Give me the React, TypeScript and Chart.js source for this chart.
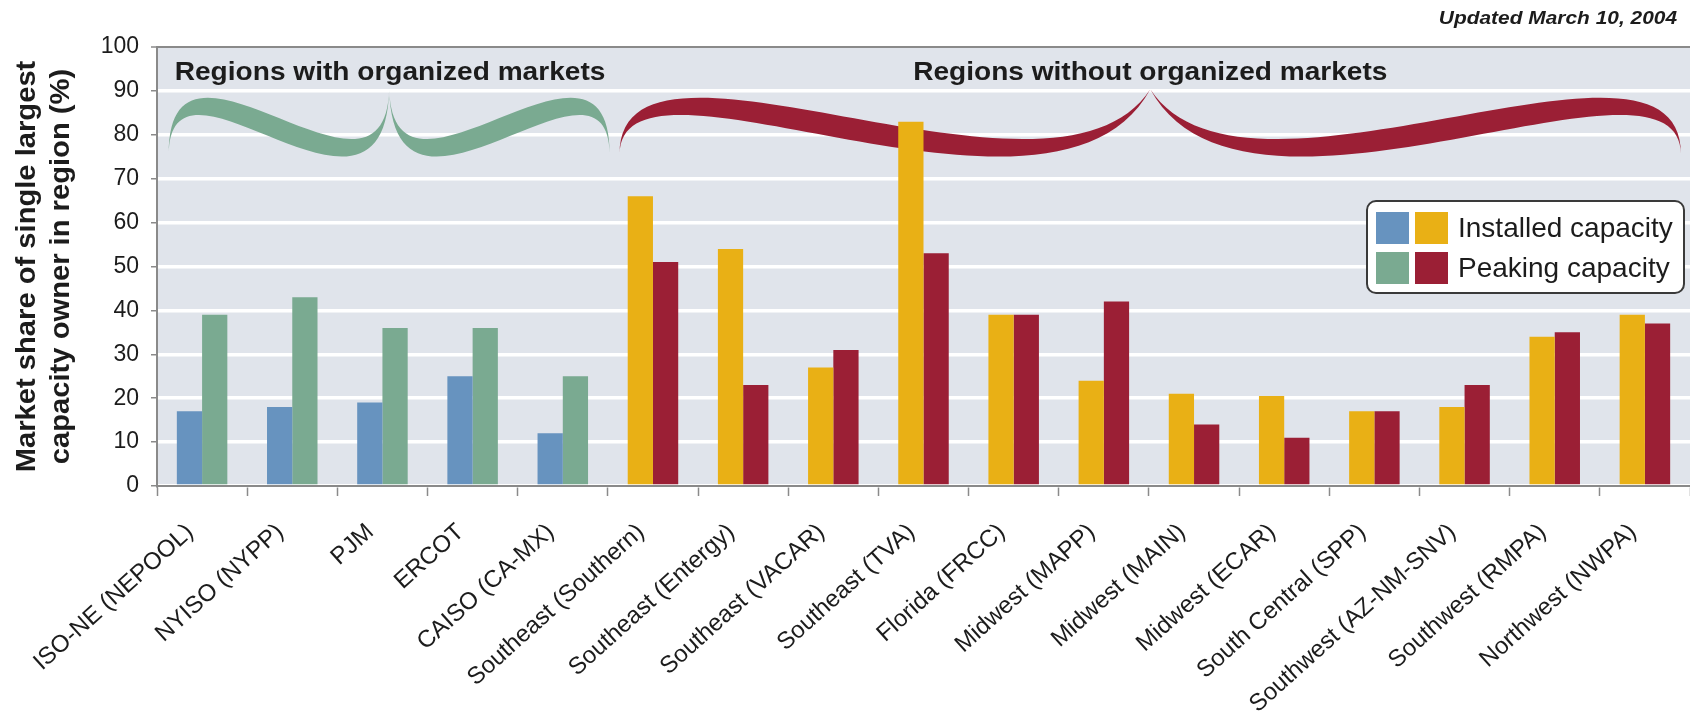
import React, { useEffect, useRef } from "react";
import { Chart, registerables } from "chart.js";

Chart.register(...registerables);

const categories = [
  "ISO-NE (NEPOOL)",
  "NYISO (NYPP)",
  "PJM",
  "ERCOT",
  "CAISO (CA-MX)",
  "Southeast (Southern)",
  "Southeast (Entergy)",
  "Southeast (VACAR)",
  "Southeast (TVA)",
  "Florida (FRCC)",
  "Midwest (MAPP)",
  "Midwest (MAIN)",
  "Midwest (ECAR)",
  "South Central (SPP)",
  "Southwest (AZ-NM-SNV)",
  "Southwest (RMPA)",
  "Northwest (NWPA)",
];

const installedCapacity = [17, 18, 19, 25, 12, 66, 54, 27, 83, 39, 24, 21, 20.5, 17, 18, 34, 39];
const peakingCapacity = [39, 43, 36, 36, 25, 51, 23, 31, 53, 39, 42, 14, 11, 17, 23, 35, 37];
const organizedMarket = [true, true, true, true, true, false, false, false, false, false, false, false, false, false, false, false, false];

const yMin = 0;
const yMax = 100;
const yStep = 10;

const groupLabels = ["Regions with organized markets", "Regions without organized markets"];
const legendLabels = ["Installed capacity", "Peaking capacity"];
const yTitleLines = ["Market share of single largest", "capacity owner in region (%)"];
const updatedNote = "Updated March 10, 2004";

const COLORS = {
  installedOrg: "#6793bf",
  peakingOrg: "#7aaa91",
  installedOther: "#e9b015",
  peakingOther: "#9b1f35",
  plotBg: "#e0e4eb",
  axis: "#8a8a8a",
  text: "#1c1c1c",
};

const FONT = "'Liberation Sans', Arial, Helvetica, sans-serif";

function drawBrace(ctx: CanvasRenderingContext2D, yScale: any, x0: number, x1: number, color: string, tipPull: number) {
  const xm = (x0 + x1) / 2;
  const w = xm - x0;
  const yE = yScale.getPixelForValue(75.6);
  const yT = yScale.getPixelForValue(90.4);
  const o1 = yScale.getPixelForValue(111.5);
  const o2 = yScale.getPixelForValue(57);
  const i1 = yScale.getPixelForValue(104.5);
  const i2 = yScale.getPixelForValue(50.5);
  const p = tipPull * w;
  ctx.save();
  ctx.fillStyle = color;
  ctx.beginPath();
  ctx.moveTo(x0, yE);
  ctx.bezierCurveTo(x0, o1, xm - p, o2, xm, yT);
  ctx.bezierCurveTo(xm - p, i2, x0 + 2, i1, x0, yE);
  ctx.closePath();
  ctx.fill();
  ctx.beginPath();
  ctx.moveTo(xm, yT);
  ctx.bezierCurveTo(xm + p, o2, x1, o1, x1, yE);
  ctx.bezierCurveTo(x1 - 2, i1, xm + p, i2, xm, yT);
  ctx.closePath();
  ctx.fill();
  ctx.restore();
}

const decorPlugin = {
  id: "decor",
  beforeDraw(chart: any) {
    const { ctx, chartArea } = chart;
    ctx.save();
    ctx.fillStyle = COLORS.plotBg;
    ctx.fillRect(chartArea.left, chartArea.top, chartArea.right - chartArea.left, chartArea.bottom - chartArea.top);
    ctx.restore();
  },
  beforeDatasetsDraw(chart: any) {
    const { ctx } = chart;
    const xScale = chart.scales.x;
    const yScale = chart.scales.y;
    const n = categories.length;
    const cw = (xScale.right - xScale.left) / n;
    const posOf = (i: number) => xScale.left + (i + 0.5) * cw;
    const nOrg = organizedMarket.filter(Boolean).length;
    // braces
    const g0 = posOf(-0.37);
    const g1 = posOf(nOrg - 0.5 + 0.02);
    const m0 = posOf(nOrg - 0.5 + 0.13);
    const m1 = posOf(n - 0.6);
    drawBrace(ctx, yScale, g0, g1, COLORS.peakingOrg, 0.02);
    drawBrace(ctx, yScale, m0, m1, COLORS.peakingOther, 0.18);
    // group labels
    const ty = yScale.getPixelForValue(94.2);
    ctx.save();
    ctx.fillStyle = COLORS.text;
    ctx.font = `bold 26px ${FONT}`;
    ctx.textBaseline = "middle";
    ctx.textAlign = "left";
    ctx.save();
    ctx.translate(posOf(-0.37) + 6, ty);
    ctx.scale(1.08, 1);
    ctx.fillText(groupLabels[0], 0, 0);
    ctx.restore();
    ctx.save();
    ctx.translate((m0 + m1) / 2, ty);
    ctx.scale(1.08, 1);
    ctx.textAlign = "center";
    ctx.fillText(groupLabels[1], 0, 0);
    ctx.restore();
    ctx.restore();
  },
  afterDraw(chart: any) {
    const { ctx, chartArea } = chart;
    // legend
    const bx = chartArea.right - 323;
    const by = chartArea.top + 154;
    const bw = 317;
    const bh = 92;
    ctx.save();
    ctx.beginPath();
    ctx.roundRect(bx, by, bw, bh, 9);
    ctx.fillStyle = "#ffffff";
    ctx.fill();
    ctx.lineWidth = 2;
    ctx.strokeStyle = "#3a3a3a";
    ctx.stroke();
    const sw = 33;
    const sh = 32;
    const rows = [
      [COLORS.installedOrg, COLORS.installedOther],
      [COLORS.peakingOrg, COLORS.peakingOther],
    ];
    rows.forEach((cols, r) => {
      const sy = by + 11 + r * 40;
      ctx.fillStyle = cols[0];
      ctx.fillRect(bx + 9, sy, sw, sh);
      ctx.fillStyle = cols[1];
      ctx.fillRect(bx + 48, sy, sw, sh);
      ctx.fillStyle = COLORS.text;
      ctx.font = `28px ${FONT}`;
      ctx.textBaseline = "middle";
      ctx.textAlign = "left";
      ctx.save();
      ctx.translate(bx + 91, sy + sh / 2 + 1);
      ctx.scale(1.0, 1);
      ctx.fillText(legendLabels[r], 0, 0);
      ctx.restore();
    });
    // y title
    const cy = (chartArea.top + chartArea.bottom) / 2;
    ctx.font = `bold 27px ${FONT}`;
    ctx.textAlign = "center";
    ctx.textBaseline = "middle";
    yTitleLines.forEach((line, i) => {
      ctx.save();
      ctx.translate(28 + i * 34, cy);
      ctx.rotate(-Math.PI / 2);
      ctx.scale(1.08, 1);
      ctx.fillText(line, 0, 0);
      ctx.restore();
    });
    // updated note
    ctx.font = `italic bold 19px ${FONT}`;
    ctx.textAlign = "right";
    ctx.textBaseline = "middle";
    ctx.save();
    ctx.translate(chartArea.right - 13, 19);
    ctx.scale(1.1, 1);
    ctx.fillText(updatedNote, 0, 0);
    ctx.restore();
    ctx.restore();
  },
};

export default function App() {
  const canvasRef = useRef<HTMLCanvasElement | null>(null);

  useEffect(() => {
    document.body.style.margin = "0";
    const canvas = canvasRef.current;
    if (!canvas) return;
    const chart = new Chart(canvas, {
      type: "bar",
      data: {
        labels: categories,
        datasets: [
          {
            label: legendLabels[0],
            data: installedCapacity,
            backgroundColor: organizedMarket.map((o) => (o ? COLORS.installedOrg : COLORS.installedOther)),
            categoryPercentage: 0.56,
            barPercentage: 1.0,
          },
          {
            label: legendLabels[1],
            data: peakingCapacity,
            backgroundColor: organizedMarket.map((o) => (o ? COLORS.peakingOrg : COLORS.peakingOther)),
            categoryPercentage: 0.56,
            barPercentage: 1.0,
          },
        ],
      },
      options: {
        responsive: false,
        animation: false,
        devicePixelRatio: 1,
        layout: { padding: { top: 47, left: 0, right: 0, bottom: 0 } },
        plugins: {
          legend: { display: false },
          tooltip: { enabled: false },
          title: { display: false },
        },
        scales: {
          x: {
            grid: {
              offset: true,
              drawOnChartArea: false,
              drawTicks: true,
              tickLength: 10,
              tickColor: COLORS.axis,
              tickWidth: 1.5,
            },
            border: { display: true, color: COLORS.axis, width: 2 },
            ticks: {
              autoSkip: false,
              maxRotation: 42,
              minRotation: 42,
              padding: 22,
              labelOffset: -12,
              color: COLORS.text,
              font: { family: FONT, size: 24 },
            },
            afterFit: (scale: any) => {
              scale.height = 233;
            },
          },
          y: {
            min: yMin,
            max: yMax,
            ticks: {
              stepSize: yStep,
              padding: 12,
              color: COLORS.text,
              font: { family: FONT, size: 23 },
            },
            grid: {
              color: (c: any) => (c.tick && c.tick.value === yMax ? COLORS.axis : "#ffffff"),
              lineWidth: (c: any) => (c.tick && c.tick.value === yMax ? 2 : 3.5),
              drawTicks: true,
              tickLength: 6,
              tickColor: COLORS.axis,
              tickWidth: 1.5,
            },
            border: { display: true, color: COLORS.axis, width: 2 },
            afterFit: (scale: any) => {
              scale.width = 157;
            },
          },
        },
      },
      plugins: [decorPlugin],
    });
    return () => chart.destroy();
  }, []);

  return (
    <div style={{ width: 1690, height: 719, position: "relative" }}>
      <canvas ref={canvasRef} width={1690} height={719} style={{ display: "block" }} />
    </div>
  );
}
